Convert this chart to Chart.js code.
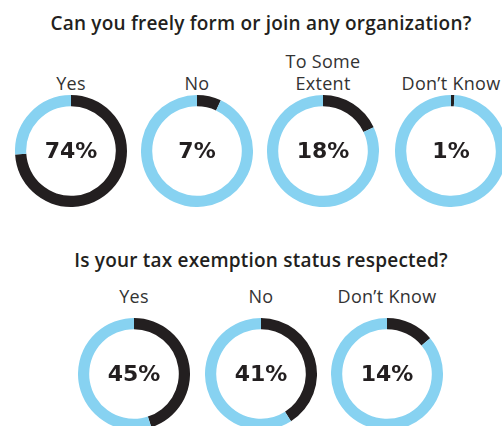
<!DOCTYPE html>
<html>
<head>
<meta charset="utf-8">
<script src="https://cdn.jsdelivr.net/npm/chart.js@4"></script>
<style>
  html, body { margin: 0; padding: 0; background: #fff; overflow: hidden; }
  #stage { position: relative; width: 502px; height: 426px; overflow: hidden; font-family: 'Open Sans', sans-serif; color: #231f20; }
  .title { position: absolute; left: 0; width: 522px; text-align: center; font-weight: 600; font-size: 19px; line-height: 24px; letter-spacing: 0.2px; }
  .label { position: absolute; width: 140px; margin-left: -70px; text-align: center; font-size: 18px; line-height: 22px; color: #333; letter-spacing: 0.3px; }
  .ring { position: absolute; width: 112px; height: 112px; }
</style>
</head>
<body>
<div id="stage"></div>
<script>
  // Question 1: freedom of association
  const q1Title = 'Can you freely form or join any organization?';
  const q1Categories = ['Yes', 'No', 'To Some Extent', 'Don\u2019t Know'];
  const q1Values = [74, 7, 18, 1];

  // Question 2: tax exemption
  const q2Title = 'Is your tax exemption status respected?';
  const q2Categories = ['Yes', 'No', 'Don\u2019t Know'];
  const q2Values = [45, 41, 14];

  const dark = '#231f20';
  const blue = '#87d2f1';

  const stage = document.getElementById('stage');

  // draws "NN%" in the middle of each ring
  const centerText = {
    id: 'centerText',
    afterDraw(chart) {
      const { ctx, chartArea } = chart;
      const v = chart.data.datasets[0].data[0];
      ctx.save();
      ctx.font = "bold 22px 'DejaVu Sans', sans-serif";
      ctx.fillStyle = dark;
      ctx.textAlign = 'center';
      ctx.textBaseline = 'middle';
      ctx.fillText(v + '%', (chartArea.left + chartArea.right) / 2, (chartArea.top + chartArea.bottom) / 2 + 1);
      ctx.restore();
    }
  };

  const addTitle = (text, cy) => {
    const el = document.createElement('div');
    el.className = 'title';
    el.style.top = (cy - 12) + 'px';
    el.textContent = text;
    stage.appendChild(el);
  };

  const addRow = (cats, vals, xs, cy, labelY) => {
    cats.forEach((cat, i) => {
      const lab = document.createElement('div');
      lab.className = 'label';
      lab.style.left = xs[i] + 'px';
      const lines = cat === 'To Some Extent' ? ['To Some', 'Extent'] : [cat];
      // last line sits on the shared label row
      lab.style.top = (labelY - 11 - (lines.length - 1) * 22) + 'px';
      lab.innerHTML = lines.join('<br>');
      stage.appendChild(lab);

      const box = document.createElement('div');
      box.className = 'ring';
      box.style.left = (xs[i] - 56) + 'px';
      box.style.top = (cy - 56) + 'px';
      const cv = document.createElement('canvas');
      box.appendChild(cv);
      stage.appendChild(box);

      new Chart(cv, {
        type: 'doughnut',
        data: {
          labels: [cat, 'Other'],
          datasets: [{
            data: [vals[i], 100 - vals[i]],
            backgroundColor: [dark, blue],
            borderWidth: 0
          }]
        },
        options: {
          responsive: true,
          maintainAspectRatio: false,
          animation: false,
          cutout: '80%',
          layout: { padding: 0 },
          plugins: { legend: { display: false }, tooltip: { enabled: false } }
        },
        plugins: [centerText]
      });
    });
  };

  addTitle(q1Title, 23);
  addRow(q1Categories, q1Values, [71, 197, 323, 451], 151, 83);

  addTitle(q2Title, 260);
  addRow(q2Categories, q2Values, [134, 261, 387], 374, 296);
</script>
</body>
</html>
